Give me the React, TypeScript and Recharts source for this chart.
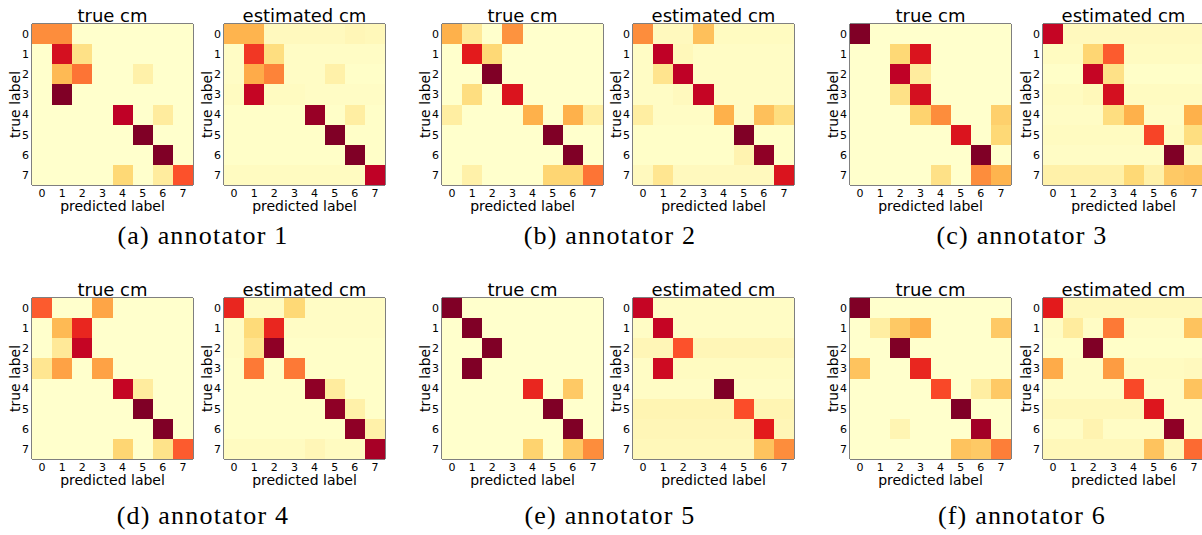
import { Scatter, ScatterChart, XAxis, YAxis } from "recharts"

// class indices and their tick labels (same on both axes)
const classes = [0, 1, 2, 3, 4, 5, 6, 7]
const classLabels = ["0", "1", "2", "3", "4", "5", "6", "7"]

// matplotlib YlOrRd stops
const ylOrRd = [
  "#ffffcc",
  "#ffeda0",
  "#fed976",
  "#feb24c",
  "#fd8d3c",
  "#fc4e2a",
  "#e31a1c",
  "#bd0026",
  "#800026",
]

// rows = true label, columns = predicted label
const trueCm1 = [
  [0.5, 0.5, 0, 0, 0, 0, 0, 0],
  [0, 0.8, 0.2, 0, 0, 0, 0, 0],
  [0, 0.35, 0.55, 0, 0, 0.1, 0, 0],
  [0, 1, 0, 0, 0, 0, 0, 0],
  [0, 0, 0, 0, 0.87, 0, 0.13, 0],
  [0, 0, 0, 0, 0, 1, 0, 0],
  [0, 0, 0, 0, 0, 0, 1, 0],
  [0, 0, 0, 0, 0.25, 0, 0.13, 0.62],
]
const estCm1 = [
  [0.37, 0.37, 0.04, 0.04, 0.04, 0.04, 0.06, 0.05],
  [0.02, 0.68, 0.22, 0.02, 0.02, 0.02, 0.02, 0.02],
  [0.02, 0.4, 0.52, 0.02, 0.02, 0.1, 0.01, 0.01],
  [0.03, 0.85, 0.03, 0.03, 0.02, 0.02, 0.02, 0.02],
  [0.01, 0.01, 0.01, 0.01, 0.95, 0.01, 0.12, 0.01],
  [0.01, 0.01, 0.01, 0.01, 0.01, 1, 0.01, 0.01],
  [0.01, 0.01, 0.01, 0.01, 0.01, 0.01, 1, 0.01],
  [0.03, 0.03, 0.03, 0.03, 0.03, 0.03, 0.03, 0.87],
]

const trueCm2 = [
  [0.38, 0.15, 0, 0.48, 0, 0, 0, 0],
  [0, 0.75, 0.25, 0, 0, 0, 0, 0],
  [0, 0, 1, 0, 0, 0, 0, 0],
  [0, 0.22, 0, 0.78, 0, 0, 0, 0],
  [0.12, 0, 0, 0, 0.38, 0, 0.38, 0.12],
  [0, 0, 0, 0, 0, 1, 0, 0],
  [0, 0, 0, 0, 0, 0, 1, 0],
  [0, 0.1, 0, 0, 0, 0.26, 0.26, 0.55],
]
const estCm2 = [
  [0.5, 0.04, 0.04, 0.33, 0.03, 0.03, 0.03, 0.03],
  [0.02, 0.87, 0.05, 0.02, 0.02, 0.02, 0.02, 0.02],
  [0.02, 0.18, 0.87, 0.02, 0.02, 0.02, 0.02, 0.02],
  [0.02, 0.02, 0.04, 0.85, 0.02, 0.02, 0.02, 0.02],
  [0.12, 0.02, 0.02, 0.02, 0.38, 0.02, 0.33, 0.22],
  [0.01, 0.01, 0.01, 0.01, 0.01, 1, 0.01, 0.01],
  [0.01, 0.01, 0.01, 0.01, 0.01, 0.08, 0.97, 0.01],
  [0.04, 0.17, 0.04, 0.04, 0.04, 0.04, 0.04, 0.78],
]

const trueCm3 = [
  [1, 0, 0, 0, 0, 0, 0, 0],
  [0, 0, 0.25, 0.78, 0, 0, 0, 0],
  [0, 0, 0.87, 0.13, 0, 0, 0, 0],
  [0, 0, 0.2, 0.8, 0, 0, 0, 0],
  [0, 0, 0, 0.27, 0.5, 0, 0, 0.28],
  [0, 0, 0, 0, 0, 0.78, 0, 0.25],
  [0, 0, 0, 0, 0, 0, 1, 0],
  [0, 0, 0, 0, 0.2, 0, 0.5, 0.37],
]
const estCm3 = [
  [0.85, 0.04, 0.04, 0.04, 0.04, 0.04, 0.04, 0.04],
  [0.03, 0.03, 0.26, 0.6, 0.03, 0.03, 0.03, 0.03],
  [0.01, 0.01, 0.85, 0.2, 0.01, 0.01, 0.01, 0.01],
  [0.03, 0.03, 0.05, 0.8, 0.03, 0.03, 0.03, 0.03],
  [0.02, 0.02, 0.02, 0.22, 0.38, 0.02, 0.02, 0.38],
  [0.03, 0.03, 0.03, 0.03, 0.03, 0.65, 0.03, 0.22],
  [0.02, 0.02, 0.02, 0.02, 0.02, 0.02, 1, 0.04],
  [0.1, 0.1, 0.1, 0.1, 0.25, 0.1, 0.3, 0.32],
]

const trueCm4 = [
  [0.6, 0, 0, 0.42, 0, 0, 0, 0],
  [0, 0.35, 0.72, 0, 0, 0, 0, 0],
  [0, 0.15, 0.85, 0, 0, 0, 0, 0],
  [0.17, 0.43, 0, 0.43, 0, 0, 0, 0],
  [0, 0, 0, 0, 0.85, 0.13, 0, 0],
  [0, 0, 0, 0, 0, 1, 0, 0],
  [0, 0, 0, 0, 0, 0, 1, 0],
  [0, 0, 0, 0, 0.26, 0, 0.19, 0.6],
]
const estCm4 = [
  [0.72, 0.03, 0.03, 0.25, 0.02, 0.02, 0.02, 0.02],
  [0.02, 0.24, 0.72, 0.02, 0.02, 0.02, 0.02, 0.02],
  [0.02, 0.18, 0.97, 0.01, 0.01, 0.01, 0.01, 0.01],
  [0.01, 0.54, 0.01, 0.54, 0.01, 0.01, 0.01, 0.01],
  [0.01, 0.01, 0.01, 0.01, 0.97, 0.13, 0.01, 0.01],
  [0.01, 0.01, 0.01, 0.01, 0.01, 0.97, 0.1, 0.01],
  [0.01, 0.01, 0.01, 0.01, 0.01, 0.01, 0.97, 0.1],
  [0.03, 0.03, 0.03, 0.03, 0.06, 0.03, 0.03, 0.92],
]

const trueCm5 = [
  [1, 0, 0, 0, 0, 0, 0, 0],
  [0, 1, 0, 0, 0, 0, 0, 0],
  [0, 0, 1, 0, 0, 0, 0, 0],
  [0, 1, 0, 0, 0, 0, 0, 0],
  [0, 0, 0, 0, 0.72, 0, 0.3, 0],
  [0, 0, 0, 0, 0, 1, 0, 0],
  [0, 0, 0, 0, 0, 0, 1, 0],
  [0, 0, 0, 0, 0.27, 0, 0.3, 0.5],
]
const estCm5 = [
  [0.85, 0.02, 0.02, 0.02, 0.02, 0.02, 0.02, 0.02],
  [0.02, 0.85, 0.02, 0.02, 0.02, 0.02, 0.02, 0.02],
  [0.06, 0.06, 0.62, 0.06, 0.06, 0.06, 0.06, 0.06],
  [0.02, 0.82, 0.03, 0.03, 0.03, 0.03, 0.03, 0.03],
  [0.02, 0.02, 0.02, 0.02, 1, 0.02, 0.02, 0.02],
  [0.07, 0.07, 0.07, 0.07, 0.07, 0.63, 0.07, 0.07],
  [0.06, 0.06, 0.06, 0.06, 0.06, 0.06, 0.75, 0.06],
  [0.05, 0.05, 0.05, 0.05, 0.05, 0.05, 0.32, 0.5],
]

const trueCm6 = [
  [1, 0, 0, 0, 0, 0, 0, 0],
  [0, 0.12, 0.3, 0.38, 0, 0, 0, 0.3],
  [0, 0, 1, 0, 0, 0, 0, 0],
  [0.32, 0, 0, 0.72, 0, 0, 0, 0],
  [0, 0, 0, 0, 0.64, 0, 0.12, 0.3],
  [0, 0, 0, 0, 0, 1, 0, 0],
  [0, 0, 0.07, 0, 0, 0, 0.93, 0],
  [0, 0, 0, 0, 0, 0.32, 0.3, 0.53],
]
const estCm6 = [
  [0.75, 0.05, 0.05, 0.05, 0.05, 0.05, 0.05, 0.05],
  [0.02, 0.13, 0.02, 0.54, 0.02, 0.02, 0.02, 0.32],
  [0.01, 0.01, 1, 0.01, 0.01, 0.01, 0.01, 0.01],
  [0.4, 0.02, 0.02, 0.45, 0.03, 0.03, 0.03, 0.04],
  [0.02, 0.02, 0.02, 0.02, 0.64, 0.02, 0.02, 0.32],
  [0.05, 0.05, 0.05, 0.05, 0.05, 0.77, 0.02, 0.02],
  [0.02, 0.02, 0.08, 0.02, 0.02, 0.02, 0.97, 0.02],
  [0.05, 0.05, 0.05, 0.05, 0.05, 0.32, 0.05, 0.57],
]

const captions = [
  "(a) annotator 1",
  "(b) annotator 2",
  "(c) annotator 3",
  "(d) annotator 4",
  "(e) annotator 5",
  "(f) annotator 6",
]
const trueMatrices = [trueCm1, trueCm2, trueCm3, trueCm4, trueCm5, trueCm6]
const estMatrices = [estCm1, estCm2, estCm3, estCm4, estCm5, estCm6]

// layout (pixels)
const PLOT = 161
const CELL = PLOT / classes.length
const Y_AXIS_W = 28
const X_AXIS_H = 30
const TOP = 24
const RIGHT = 4
const pairLefts = [
  [32, 224],
  [442, 633],
  [850, 1043],
]
const rowTops = [24, 298]
const captionCenters = [203, 610, 1022]
const captionBaselines = [245, 525]

const sans = "'DejaVu Sans', sans-serif"

function hexToRgb(hex: string) {
  const n = parseInt(hex.slice(1), 16)
  return [(n >> 16) & 255, (n >> 8) & 255, n & 255]
}

function colorFor(value: number) {
  const t = Math.max(0, Math.min(1, value)) * (ylOrRd.length - 1)
  const i = Math.min(Math.floor(t), ylOrRd.length - 2)
  const f = t - i
  const a = hexToRgb(ylOrRd[i])
  const b = hexToRgb(ylOrRd[i + 1])
  const mix = a.map((v, k) => Math.round(v + (b[k] - v) * f))
  return `rgb(${mix[0]},${mix[1]},${mix[2]})`
}

function toCells(matrix: number[][]) {
  return matrix.flatMap((row, r) =>
    row.map((value, c) => ({ predicted: classes[c], actual: classes[r], value })),
  )
}

function CellShape(props: any) {
  const { cx, cy, payload } = props
  return (
    <rect
      x={cx - CELL / 2}
      y={cy - CELL / 2}
      width={CELL}
      height={CELL}
      fill={colorFor(payload.value)}
      shapeRendering="crispEdges"
    />
  )
}

const domain: [number, number] = [-0.5, 7.5]
const tickStyle = { fontSize: 11, fill: "#000", fontFamily: sans }

function Heatmap({
  left,
  top,
  title,
  matrix,
}: {
  left: number
  top: number
  title: string
  matrix: number[][]
}) {
  const width = Y_AXIS_W + PLOT + RIGHT
  const height = TOP + PLOT + X_AXIS_H
  return (
    <div style={{ position: "absolute", left: left - Y_AXIS_W, top: top - TOP, width, height }}>
      <div
        style={{
          position: "absolute",
          left: Y_AXIS_W,
          top: 7,
          width: PLOT,
          textAlign: "center",
          fontFamily: sans,
          fontSize: 18,
          lineHeight: "18px",
          color: "#000",
        }}
      >
        {title}
      </div>
      <ScatterChart width={width} height={height} margin={{ top: TOP, right: RIGHT, left: 0, bottom: 0 }}>
        <Scatter
          data={toCells(matrix)}
          xAxisId="b"
          yAxisId="l"
          dataKey="actual"
          shape={CellShape}
          isAnimationActive={false}
        />
        <XAxis
          xAxisId="b"
          type="number"
          dataKey="predicted"
          domain={domain}
          allowDataOverflow
          ticks={classes}
          tickFormatter={(v) => classLabels[v]}
          interval={0}
          height={X_AXIS_H}
          tickLine={false}
          tickSize={0}
          tickMargin={4}
          tick={tickStyle}
          axisLine={{ stroke: "#000" }}
          label={{
            value: "predicted label",
            position: "insideBottom",
            offset: 4,
            style: { fontSize: 14, fill: "#000", fontFamily: sans },
          }}
        />
        <XAxis
          xAxisId="bi"
          type="number"
          orientation="bottom"
          mirror
          domain={domain}
          allowDataOverflow
          ticks={classes}
          interval={0}
          tick={false}
          tickSize={4}
          tickLine={{ stroke: "#000" }}
          axisLine={false}
        />
        <XAxis
          xAxisId="t"
          type="number"
          orientation="top"
          mirror
          domain={domain}
          allowDataOverflow
          ticks={classes}
          interval={0}
          tick={false}
          tickSize={4}
          tickLine={{ stroke: "#000" }}
          axisLine={{ stroke: "#000" }}
        />
        <YAxis
          yAxisId="l"
          type="number"
          dataKey="actual"
          reversed
          domain={domain}
          allowDataOverflow
          ticks={classes}
          tickFormatter={(v) => classLabels[v]}
          interval={0}
          width={Y_AXIS_W}
          tickLine={false}
          tickSize={0}
          tickMargin={3}
          tick={tickStyle}
          axisLine={{ stroke: "#000" }}
          label={{
            value: "true label",
            angle: -90,
            position: "insideLeft",
            offset: 11,
            style: { fontSize: 14, fill: "#000", fontFamily: sans, textAnchor: "middle" },
          }}
        />
        <YAxis
          yAxisId="li"
          type="number"
          orientation="left"
          mirror
          reversed
          domain={domain}
          allowDataOverflow
          ticks={classes}
          interval={0}
          tick={false}
          tickSize={4}
          tickLine={{ stroke: "#000" }}
          axisLine={false}
        />
        <YAxis
          yAxisId="r"
          type="number"
          orientation="right"
          mirror
          reversed
          domain={domain}
          allowDataOverflow
          ticks={classes}
          interval={0}
          tick={false}
          tickSize={4}
          tickLine={{ stroke: "#000" }}
          axisLine={{ stroke: "#000" }}
        />
      </ScatterChart>
    </div>
  )
}

export default function App() {
  return (
    <div
      style={{
        position: "absolute",
        left: 0,
        top: 0,
        width: 1202,
        height: 535,
        overflow: "hidden",
        background: "#fff",
      }}
    >
      {captions.map((caption, i) => {
        const row = Math.floor(i / 3)
        const col = i % 3
        const [trueLeft, estLeft] = pairLefts[col]
        const top = rowTops[row]
        return (
          <div key={caption}>
            <Heatmap left={trueLeft} top={top} title="true cm" matrix={trueMatrices[i]} />
            <Heatmap left={estLeft} top={top} title="estimated cm" matrix={estMatrices[i]} />
            <div
              style={{
                position: "absolute",
                left: captionCenters[col] - 150,
                top: captionBaselines[row] - 22,
                width: 300,
                textAlign: "center",
                fontFamily: "'Liberation Serif', serif",
                fontSize: 26,
                lineHeight: "26px",
                letterSpacing: 1.2,
                color: "#000",
              }}
            >
              {caption}
            </div>
          </div>
        )
      })}
    </div>
  )
}
